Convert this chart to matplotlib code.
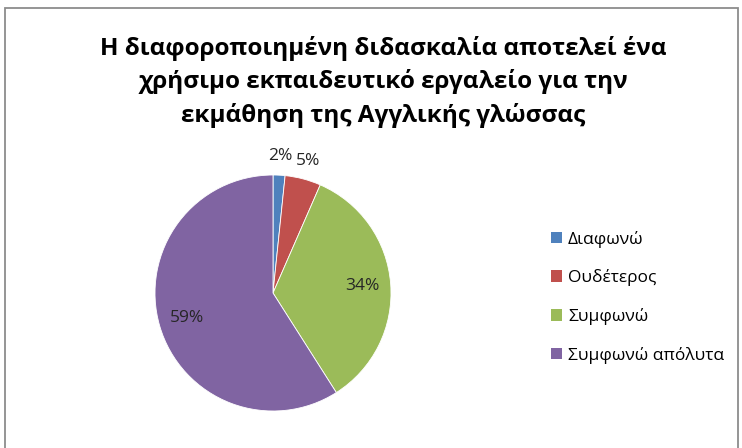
import matplotlib
matplotlib.use("Agg")
import matplotlib.pyplot as plt
from matplotlib.patches import Rectangle, Patch
import numpy as np

plt.rcParams['font.family'] = ['Open Sans', 'DejaVu Sans']

title = "Η διαφοροποιημένη διδασκαλία αποτελεί ένα\nχρήσιμο εκπαιδευτικό εργαλείο για την\nεκμάθηση της Αγγλικής γλώσσας"
categories = ["Διαφωνώ", "Ουδέτερος", "Συμφωνώ", "Συμφωνώ απόλυτα"]
counts = [1, 3, 21, 36]
colors = ["#4F81BD", "#C0504D", "#9BBB59", "#8064A2"]

W, H = 742, 448
fig = plt.figure(figsize=(W / 100, H / 100), dpi=100)

# chart frame
fig.patches.append(Rectangle((5 / W, -0.01), 733 / W, 1 - 8 / H + 0.01,
                             transform=fig.transFigure, fill=False,
                             edgecolor="#8c8c8c", lw=1.3))

fig.text(383 / W, 1 - 82 / H, title, ha="center", va="center",
         fontsize=17.5, fontweight="bold", linespacing=1.45)

cx, cy, r = 273, 293, 118
ax = fig.add_axes([(cx - r) / W, (H - cy - r) / H, 2 * r / W, 2 * r / H])
wedges, _ = ax.pie(counts, colors=colors, startangle=90, counterclock=False,
                   wedgeprops=dict(linewidth=0.6, edgecolor="white"))
ax.set_xlim(-1, 1)
ax.set_ylim(-1, 1)
ax.axis("off")

total = sum(counts)
for w, c in zip(wedges, counts):
    pct = 100 * c / total
    mid = np.deg2rad((w.theta1 + w.theta2) / 2)
    d = 1.16 if pct < 10 else 0.76
    ax.text(d * np.cos(mid), d * np.sin(mid), f"{pct:.0f}%",
            ha="center", va="center", fontsize=12.5, color="#262626")

handles = [Patch(facecolor=col, edgecolor="none") for col in colors]
fig.legend(handles, categories, loc="upper left",
           bbox_to_anchor=(542 / W, 1 - 222 / H), frameon=False,
           fontsize=12.5, handlelength=0.65, handleheight=0.65,
           handletextpad=0.35, labelspacing=1.25, borderpad=0)

fig.savefig("out.png", dpi=100)
